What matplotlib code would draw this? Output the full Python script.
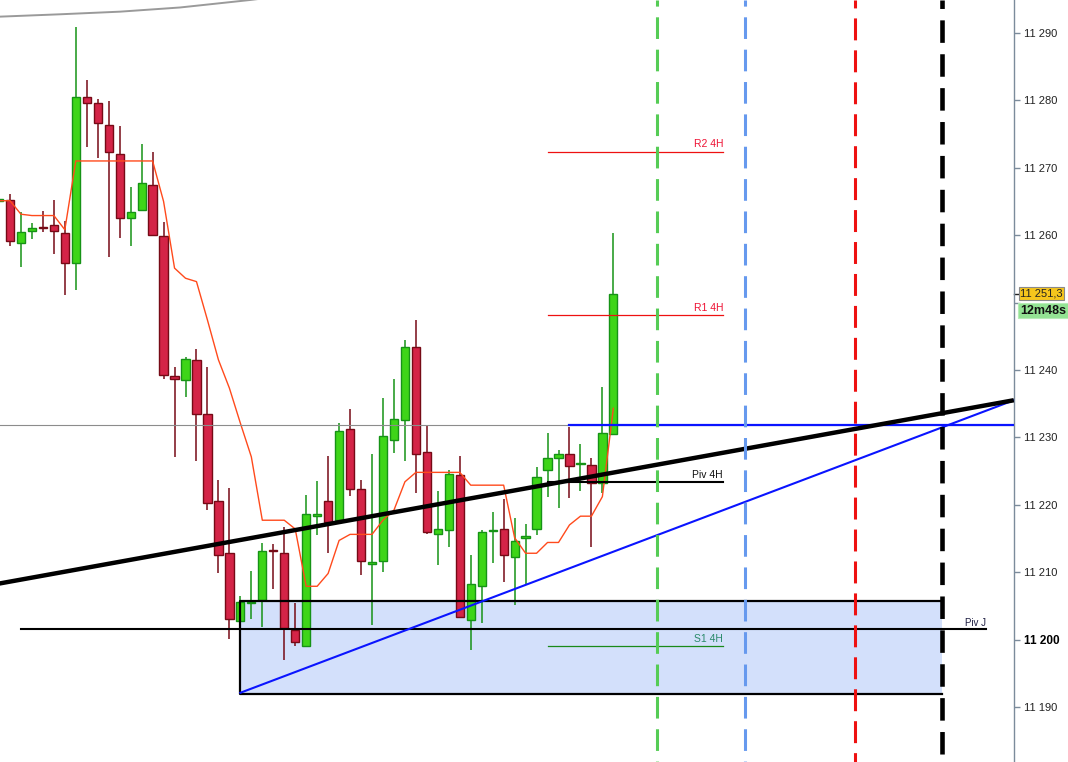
import matplotlib
matplotlib.use("Agg")
import matplotlib.pyplot as plt
import matplotlib.transforms as mtransforms
import numpy as np

plt.rcParams['font.family'] = ['Liberation Sans', 'DejaVu Sans']
plt.rcParams['lines.scale_dashes'] = False

# OHLC, one candle per bar index
opens = [11265.0, 11265.2, 11258.8, 11260.6, 11261.2, 11261.5, 11260.3, 11255.8, 11280.5, 11279.6,
         11276.4, 11272.1, 11262.5, 11263.7, 11267.5, 11259.8, 11239.1, 11238.5, 11241.4, 11233.4,
         11220.5, 11212.9, 11202.7, 11205.4, 11205.9, 11213.2, 11212.9, 11201.4, 11199.1, 11218.4,
         11220.5, 11217.7, 11231.2, 11222.4, 11211.2, 11211.6, 11229.6, 11232.5, 11243.4, 11227.8,
         11215.6, 11216.2, 11224.4, 11202.9, 11208.0, 11216.1, 11216.4, 11212.3, 11215.0, 11216.4,
         11225.1, 11226.9, 11227.5, 11226.0, 11225.9, 11223.2, 11230.5]
highs = [11265.6, 11266.1, 11263.4, 11261.8, 11263.6, 11265.2, 11262.1, 11290.9, 11283.0, 11280.2,
         11279.9, 11276.2, 11267.1, 11273.5, 11272.3, 11261.9, 11240.4, 11241.9, 11243.1, 11240.4,
         11223.7, 11222.5, 11206.5, 11210.2, 11214.3, 11214.2, 11216.7, 11205.4, 11221.4, 11223.5,
         11227.2, 11232.1, 11234.2, 11223.6, 11227.5, 11235.9, 11238.6, 11244.5, 11247.4, 11231.9,
         11222.0, 11225.1, 11227.2, 11212.5, 11216.2, 11218.9, 11220.8, 11218.0, 11217.1, 11225.6,
         11230.6, 11228.1, 11231.5, 11229.0, 11227.0, 11237.4, 11260.3]
lows = [11264.8, 11258.4, 11255.3, 11259.4, 11260.4, 11257.2, 11251.1, 11251.8, 11273.1, 11271.5,
        11256.8, 11259.6, 11258.4, 11263.7, 11260.0, 11238.7, 11227.1, 11236.0, 11226.5, 11219.2,
        11209.9, 11200.1, 11202.7, 11203.0, 11201.9, 11207.5, 11196.9, 11199.1, 11198.9, 11215.5,
        11212.8, 11217.7, 11221.3, 11209.5, 11202.1, 11210.0, 11227.7, 11226.5, 11221.7, 11215.6,
        11211.0, 11213.7, 11203.3, 11198.4, 11202.4, 11211.3, 11208.5, 11205.1, 11208.3, 11215.5,
        11221.1, 11219.5, 11221.0, 11222.1, 11213.8, 11221.7, 11230.5]
closes = [11265.3, 11259.1, 11260.4, 11261.0, 11261.0, 11260.6, 11255.8, 11280.5, 11279.6, 11276.6,
          11272.3, 11262.6, 11263.4, 11267.8, 11260.0, 11239.2, 11238.6, 11241.6, 11233.4, 11220.2,
          11212.6, 11203.0, 11205.5, 11205.6, 11213.1, 11213.1, 11201.7, 11199.6, 11218.6, 11218.5,
          11217.4, 11230.9, 11222.3, 11211.6, 11211.5, 11230.2, 11232.7, 11243.4, 11227.5, 11215.9,
          11216.4, 11224.5, 11203.3, 11208.2, 11215.9, 11216.2, 11212.5, 11214.6, 11215.3, 11224.1,
          11226.9, 11227.5, 11225.7, 11226.1, 11223.2, 11230.6, 11251.3]

# orange stepped indicator line
ma = [11265.1, 11265.1, 11263.1, 11262.9, 11262.9, 11262.9, 11260.8,
      11271.0, 11271.0, 11271.0, 11271.0, 11271.0, 11271.0, 11271.0, 11271.0,
      11265.0, 11255.1, 11253.6, 11253.1, 11247.4, 11241.5, 11237.3, 11232.1, 11227.1,
      11217.7, 11217.7, 11217.7, 11216.4, 11207.9, 11207.9, 11209.8, 11214.7,
      11215.6, 11215.6, 11215.6, 11217.7, 11219.2, 11223.4,
      11224.8, 11224.8, 11224.8, 11224.8, 11224.8,
      11222.9, 11222.9, 11222.9, 11222.9, 11215.1, 11212.8, 11212.8, 11214.4, 11214.4,
      11217.0, 11218.3, 11218.3, 11221.2, 11234.3]

# drawings
pivots_4h = ["R2 4H", "R1 4H", "Piv 4H", "S1 4H"]
pivot_vals = [11272.4, 11248.2, 11223.4, 11199.1]
piv_j = 11201.6
box_top, box_bottom = 11205.7, 11191.9
box_left, box_right = 22, 86
h_line = 11231.8
thick_trend_x, thick_trend_y = [0, 92.5], [11208.3, 11235.5]
blue_trend_x, blue_trend_y = [22, 92.5], [11192.1, 11235.5]
gray_curve_x = [0.09, 5.56, 11.03, 16.5, 22.88, 25.0]
gray_curve_y = [11292.41, 11292.76, 11293.15, 11293.77, 11294.88, 11295.3]
v_lines = [60, 68, 78, 86]
last_price = 11251.3
countdown = "12m48s"
yticks = list(range(11190, 11291, 10))

ymin, ymax = 11181.83, 11294.88

fig = plt.figure(figsize=(10.68, 7.62), dpi=100)
ax = fig.add_axes([0, 0, 1014 / 1068, 1])
ax.set_xlim(0.09, 92.52)
ax.set_ylim(ymin, ymax)

# box behind the candles
ax.fill_between([box_left, box_right], box_bottom, box_top, color='#d3e0fb', lw=0, zorder=1)

o = np.array(opens); h = np.array(highs); l = np.array(lows); c = np.array(closes)
idx = np.arange(len(o))
up = c >= o
bot = np.minimum(o, c)
hgt = np.maximum(np.abs(c - o), 0.15)

ax.vlines(idx[up], l[up], h[up], color='#169316', lw=1.1, zorder=2.5)
ax.vlines(idx[~up], l[~up], h[~up], color='#760a16', lw=1.1, zorder=2.5)
ax.bar(idx[up], hgt[up], 0.75, bottom=bot[up], color='#3ed518', edgecolor='#169316', lw=1, zorder=3)
ax.bar(idx[~up], hgt[~up], 0.75, bottom=bot[~up], color='#d42447', edgecolor='#760a16', lw=1, zorder=3)

ax.plot(idx, ma, color='#ff4a1c', lw=1.0, zorder=3.5)

# horizontal and trend lines
ax.axhline(h_line, color='#8c8c8c', lw=0.8, zorder=4)
ax.plot([52, 92.6], [h_line, h_line], color='#0a14ff', lw=1.6, zorder=4.2)
ax.plot(gray_curve_x, gray_curve_y, color='#9a9a9a', lw=1.4, zorder=4)
ax.plot(thick_trend_x, thick_trend_y, color='black', lw=3.2, zorder=4.5, solid_capstyle='butt')
ax.plot(blue_trend_x, blue_trend_y, color='#0a14ff', lw=1.5, zorder=4.4)

# box outline
ax.plot([box_right, box_left, box_left, box_right], [box_top, box_top, box_bottom, box_bottom],
        color='black', lw=1.6, zorder=4.3)
ax.plot([2, 90], [piv_j, piv_j], color='black', lw=1.5, zorder=4.3)
ax.text(90, piv_j + 0.45, "Piv J", ha='right', va='baseline', fontsize=7, color='#1c1c40', zorder=6)

# 4H pivot segments
piv_colors = ['#ee1111', '#ee1111', 'black', '#1a8a1a']
piv_lw = [0.9, 0.9, 1.5, 0.9]
txt_colors = ['#ee1133', '#ee1133', '#111111', '#2a8a6a']
for name, val, col, lw, tc in zip(pivots_4h, pivot_vals, piv_colors, piv_lw, txt_colors):
    ax.plot([50, 66], [val, val], color=col, lw=lw, zorder=4.3)
    ax.text(66, val + 0.6, name, ha='right', va='baseline', fontsize=7.5, color=tc, zorder=6)

# vertical dashed lines
vcols = ['#55cc55', '#6699ee', '#ee1111', 'black']
vlws = [2.2, 2.2, 2.2, 3.3]
vdash = [(11.2, (15.6, 7.7)), (11.2, (15.6, 7.7)), (10.1, (15.8, 7.2)), (10.1, (16.2, 8.2))]
for x, col, lw, ls in zip(v_lines, vcols, vlws, vdash):
    ax.plot([x, x], [ymax, ymin], color=col, lw=lw, ls=ls, zorder=5, solid_capstyle='butt',
            dash_capstyle='butt')

# axis styling
for s in ['left', 'top', 'bottom']:
    ax.spines[s].set_visible(False)
ax.spines['right'].set_color('#7b8b9b')
ax.spines['right'].set_linewidth(1.0)
ax.set_xticks([])
ax.yaxis.tick_right()
ax.set_yticks(yticks)
# 11 250 is covered by the price tag in the original
ax.set_yticklabels(["" if v == 11250 else f"{v:,}".replace(",", " ") for v in yticks])
ax.tick_params(axis='y', length=4, width=1, color='#7b8b9b', pad=3, labelsize=8, labelcolor='#222222')
for t, v in zip(ax.get_yticklabels(), yticks):
    if v == 11200:
        t.set_fontweight('bold')
        t.set_fontsize(8.5)
        t.set_color('black')

trans = mtransforms.blended_transform_factory(ax.transAxes, ax.transData)
ax.plot([1.0, 1.0 + 5 / 1014], [last_price, last_price], transform=trans, color='#222222', lw=1,
        clip_on=False)
ax.text(1.0 + 6 / 1014, last_price, f"{last_price:,.1f}".replace(",", " ").replace(".", ","),
        transform=trans, ha='left', va='center', fontsize=8, color='#222222', clip_on=False,
        bbox=dict(boxstyle='square,pad=0.12', fc='#f6c61c', ec='#8a8a8a', lw=0.8))
ax.text(1.0 + 6 / 1014, last_price - 2.5, countdown, transform=trans, ha='left', va='center',
        fontsize=9, fontweight='bold', color='#111111', clip_on=False,
        bbox=dict(boxstyle='square,pad=0.15', fc='#93e393', ec='#b6ecb6', lw=0.8))

fig.savefig("out.png", dpi=100)
